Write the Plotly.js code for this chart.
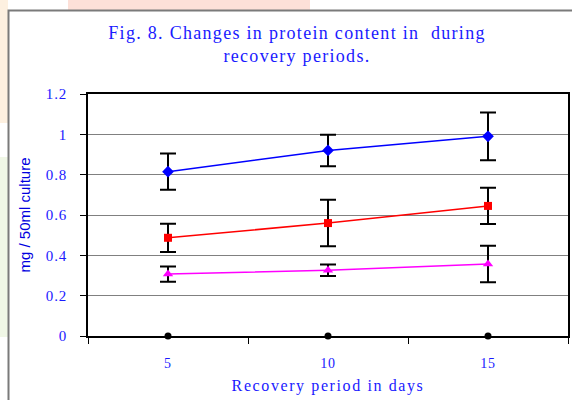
<!DOCTYPE html>
<html>
<head>
<meta charset="utf-8">
<script src="https://cdn.plot.ly/plotly-3.0.1.min.js"></script>
<style>
html,body{margin:0;padding:0;background:#fff;}
#chart{width:572px;height:400px;}
.gtitle{letter-spacing:1.3px;}
.xtitle{letter-spacing:1.6px;}
.xtick text,.ytick text{letter-spacing:0.8px;}
</style>
</head>
<body>
<div id="chart"></div>
<script>
// Data
const days = ['5', '10', '15'];
const blueVals = [0.815, 0.92, 0.99];
const blueErr = [0.09, 0.078, 0.118];
const redVals = [0.487, 0.56, 0.645];
const redErr = [0.07, 0.115, 0.09];
const pinkVals = [0.307, 0.326, 0.357];
const pinkErr = [0.038, 0.029, 0.09];
const controlVals = [0, 0, 0];
const yTicks = [0, 0.2, 0.4, 0.6, 0.8, 1, 1.2];
const yTickText = ['0', '0.2', '0.4', '0.6', '0.8', '1', '1.2'];

const errStyle = (arr) => ({type: 'data', array: arr, visible: true, color: '#000', thickness: 2, width: 8});

const traces = [
  {x: days, y: blueVals, error_y: errStyle(blueErr), mode: 'lines+markers', type: 'scatter',
   line: {color: '#0000ff', width: 1.5}, marker: {symbol: 'diamond', size: 9, color: '#0000ff'}, cliponaxis: false},
  {x: days, y: redVals, error_y: errStyle(redErr), mode: 'lines+markers', type: 'scatter',
   line: {color: '#ff0000', width: 1.5}, marker: {symbol: 'square', size: 8, color: '#ff0000'}, cliponaxis: false},
  {x: days, y: pinkVals, error_y: errStyle(pinkErr), mode: 'lines+markers', type: 'scatter',
   line: {color: '#ff00ff', width: 1.5}, marker: {symbol: 'triangle-up', size: 9, color: '#ff00ff'}, cliponaxis: false},
  {x: days, y: controlVals, mode: 'markers', type: 'scatter',
   marker: {symbol: 'circle', size: 7, color: '#000'}, cliponaxis: false}
];

const px = (X) => (X - 88) / 480;
const py = (Y) => (336 - Y) / 242;

const layout = {
  width: 572, height: 400,
  margin: {l: 88, r: 4, t: 94, b: 64},
  paper_bgcolor: '#ffffff',
  plot_bgcolor: '#ffffff',
  showlegend: false,
  title: {
    text: 'Fig. 8. Changes in protein content in  during<br>recovery periods.',
    font: {family: 'Liberation Serif', size: 18, color: '#1a1aff'},
    x: 297 / 572, xanchor: 'center', xref: 'container',
    y: 1 - 39 / 400, yanchor: 'top', yref: 'container'
  },
  xaxis: {
    type: 'category',
    range: [-0.5, 2.5],
    tickson: 'boundaries',
    ticks: 'outside', ticklen: 6, tickwidth: 1, tickcolor: '#000',
    showline: true, linecolor: '#000', linewidth: 2, mirror: true,
    showgrid: false, zeroline: false,
    tickfont: {family: 'Liberation Serif', size: 14, color: '#1a1aff'},
    ticklabelstandoff: 13,
    title: {text: 'Recovery period in days', font: {family: 'Liberation Serif', size: 16, color: '#1a1aff'}, standoff: 10}
  },
  yaxis: {
    range: [0, 1.2],
    tickvals: yTicks, ticktext: yTickText,
    ticks: 'outside', ticklen: 6, tickwidth: 1, tickcolor: '#000',
    showline: true, linecolor: '#000', linewidth: 2, mirror: true,
    showgrid: true, gridcolor: '#808080', gridwidth: 1,
    zeroline: false,
    tickfont: {family: 'Liberation Serif', size: 15, color: '#1a1aff'},
    ticklabelstandoff: 10,
    title: {text: 'mg / 50ml culture', font: {family: 'Liberation Sans', size: 15, color: '#0000e0'}, standoff: 12}
  },
  shapes: [
    {type: 'rect', xref: 'paper', yref: 'paper', x0: px(0), x1: px(8), y0: py(123), y1: py(0), fillcolor: '#fdf0e0', line: {width: 0}, layer: 'below'},
    {type: 'rect', xref: 'paper', yref: 'paper', x0: px(0), x1: px(8), y0: py(337), y1: py(157), fillcolor: '#f0f7e6', line: {width: 0}, layer: 'below'},
    {type: 'rect', xref: 'paper', yref: 'paper', x0: px(68), x1: px(310), y0: py(10), y1: py(0), fillcolor: '#fde0d8', line: {width: 0}, layer: 'below'},
    {type: 'path', xref: 'paper', yref: 'paper', path: `M ${px(8.5)},${py(402)} L ${px(8.5)},${py(10.5)} L ${px(574)},${py(10.5)}`, line: {color: '#7a7a7a', width: 2}}
  ]
};

Plotly.newPlot('chart', traces, layout, {displayModeBar: false, staticPlot: true});
</script>
</body>
</html>
